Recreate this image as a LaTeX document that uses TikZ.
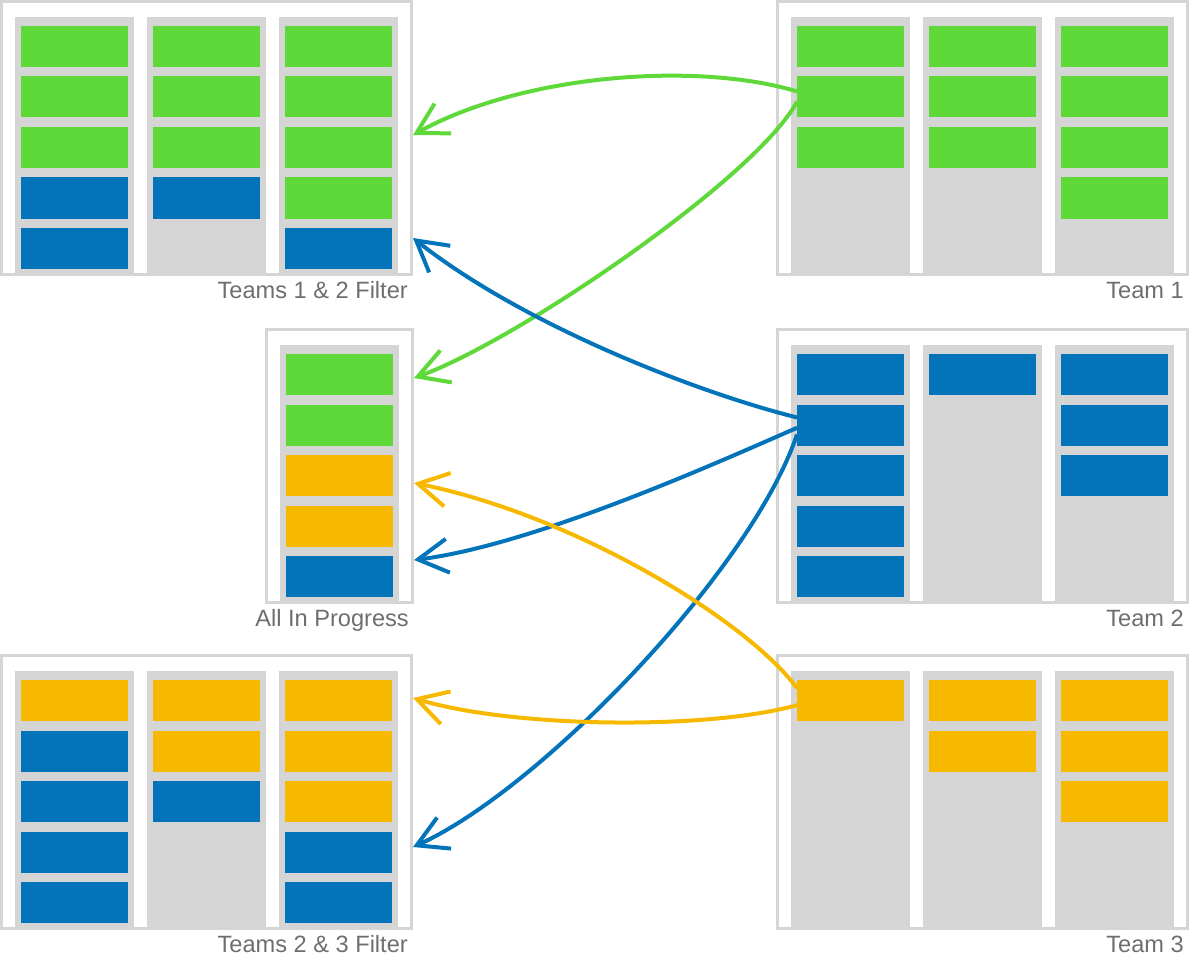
\documentclass[tikz,border=0pt]{standalone}
\usepackage{fontspec}
\setmainfont{Liberation Sans}
\usetikzlibrary{calc,arrows.meta}
\definecolor{G}{RGB}{95,217,58}
\definecolor{B}{RGB}{3,116,186}
\definecolor{Y}{RGB}{246,185,0}
\definecolor{colbg}{RGB}{213,213,213}
\definecolor{lblgray}{RGB}{110,110,110}
\tikzset{
  frame/.style={draw=colbg, line width=3pt, inner sep=0pt, outer sep=1.5pt, anchor=north west},
  card/.style={inner sep=0pt, outer sep=0pt, minimum width=107pt, minimum height=41pt, anchor=north west},
  lbl/.style={text=lblgray, inner sep=0pt, font=\fontsize{23.6}{28}\selectfont},
  flow/.style={line width=4pt, -{Straight Barb[length=30pt,width=34pt]}}
}
% #1 name, #2 corner, #3 columns, #4 cards per column, #5 label
\newcommand{\board}[5]{
  \node[frame, minimum width={132*#3+14}, minimum height=273pt] (#1) at (#2) {};
  \foreach \cards [count=\i from 0] in {#4} {
    \fill[colbg] ($(#1.north west)+(15+132*\i,17)$) rectangle +(119,256);
    \foreach \c [count=\j from 0] in \cards
      \node[card, fill=\c] (#1-\i-\j) at ($(#1.north west)+(21+132*\i,26+50.5*\j)$) {};
  }
  \node[lbl, anchor=base east] (#1-lbl) at ($(#1.south east)+(-5,22.5)$) {#5};
}

\begin{document}
\begin{tikzpicture}[x=1pt, y=-1pt]
\useasboundingbox (0,0) rectangle (1189,955);

\board{F12}{0,0}{3}{{G,G,G,B,B},{G,G,G,B},{G,G,G,G,B}}{Teams 1 \& 2 Filter}
\board{T1}{776,0}{3}{{G,G,G},{G,G,G},{G,G,G,G}}{Team 1}
\board{AIP}{265,328}{1}{{G,G,Y,Y,B}}{All In Progress}
\board{T2}{776,328}{3}{{B,B,B,B,B},{B},{B,B,B}}{Team 2}
\board{F23}{0,654}{3}{{Y,B,B,B,B},{Y,Y,B},{Y,Y,Y,B,B}}{Teams 2 \& 3 Filter}
\board{T3}{776,654}{3}{{Y},{Y,Y},{Y,Y,Y}}{Team 3}

% team 1
\draw[flow, G] (T1-0-1.174) .. controls +(-100,-30) and +(110,-61) .. ([yshift=-135pt]F12.north east);
\draw[flow, G] (T1-0-1.185) .. controls +(-40,75) and +(105,-38) .. ([yshift=-50pt]AIP.north east);
% team 2
\draw[flow, B] (T2-0-1.172) .. controls +(-100,-25) and +(110,87) .. ([yshift=-238pt]F12.north east);
\draw[flow, B] (T2-0-1.183) .. controls +(-80,35) and +(120,-15) .. ([yshift=-232pt]AIP.north east);
\draw[flow, B] (T2-0-1.190) .. controls +(-45,135) and +(127,-57) .. ([yshift=-193pt]F23.north east);
% team 3
\draw[flow, Y] (T3-0-0.167) .. controls +(-50,-68) and +(160,32) .. ([yshift=-155pt]AIP.north east);
\draw[flow, Y] (T3-0-0.185) .. controls +(-90,25) and +(100,30) .. ([yshift=-44pt]F23.north east);
\end{tikzpicture}
\end{document}
